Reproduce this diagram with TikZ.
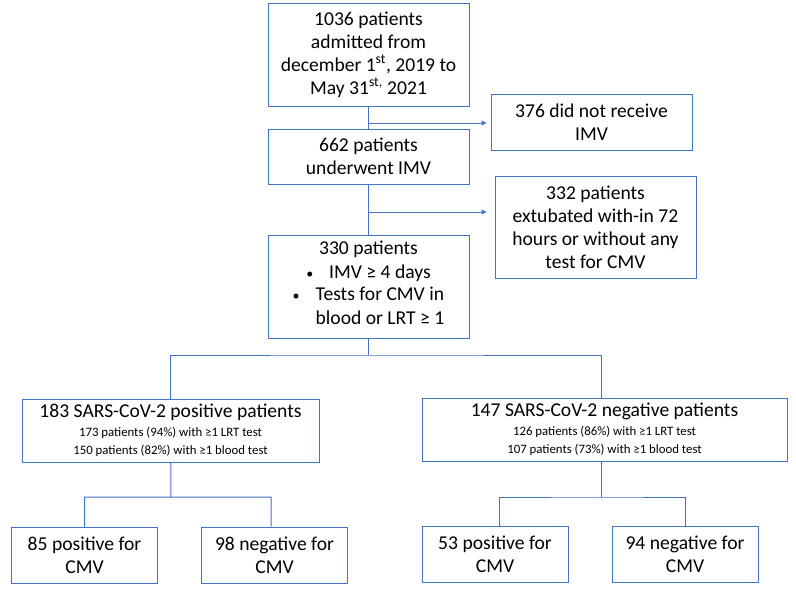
\documentclass[tikz,border=0pt]{standalone}
\usepackage{fontspec}
\setmainfont{Carlito}
\usetikzlibrary{arrows.meta,positioning}
\definecolor{office}{HTML}{4472C4}
\newcommand{\smalltxt}{\fontsize{12.8}{17}\selectfont}
\newcommand{\dotmark}{{\fontsize{14}{14}\selectfont\textbullet}}

\begin{document}
\begin{tikzpicture}[x=1pt,y=-1pt,>={Triangle[length=5pt,width=5pt]},
 box/.style={draw=office,line width=1pt,align=center,inner sep=0pt,
 font=\fontsize{19.6}{23}\selectfont},
 mainbox/.style={box,minimum width=201pt,minimum height=103pt},
 sidebox/.style={box,minimum width=201pt},
 leaf/.style={box,minimum width=146pt,minimum height=56pt},
 every edge/.style={draw=office,line width=1pt}]
\useasboundingbox (0,0) rectangle (796,590);
\node[mainbox] (adm) at (368.5,54.5)
 {1036 patients\\admitted from\\december 1\textsuperscript{st}, 2019 to\\May 31\textsuperscript{st,} 2021};
\node[sidebox,minimum height=56pt] (nomv) at (591.5,122) {376 did not receive\\IMV};
\node[mainbox,minimum height=55pt] (imv) at (368.5,156.5) {662 patients\\underwent IMV};
\node[sidebox,minimum height=102pt] (excl) at (595.5,227)
 {332 patients\\extubated with-in 72\\hours or without any\\test for CMV};
\node[mainbox] (sel) at (368.5,286.5)
 {330 patients\\[1pt]
 \dotmark\hspace{16pt}IMV ≥ 4 days\\[1pt]
 \renewcommand{\arraystretch}{1.04}%
 \begin{tabular}{@{}l@{\hspace{16pt}}l@{}}\dotmark & Tests for CMV in\\ & blood or LRT ≥ 1\end{tabular}};
\node[box,minimum width=297pt,minimum height=63pt] (pos) at (170.5,430.5)
 {183 SARS-CoV-2 positive patients\\[-4pt]
 {\smalltxt 173 patients (94\%) with ≥1 LRT test}\\[-5pt]
 {\smalltxt 150 patients (82\%) with ≥1 blood test}};
\node[box,minimum width=365pt,minimum height=63pt] (neg) at (604.5,429.5)
 {147 SARS-CoV-2 negative patients\\[-4pt]
 {\smalltxt 126 patients (86\%) with ≥1 LRT test}\\[-5pt]
 {\smalltxt 107 patients (73\%) with ≥1 blood test}};
\node[leaf] (pp) at (84.5,555.5) {85 positive for\\CMV};
\node[leaf] (pn) at (274.5,555) {98 negative for\\CMV};
\node[leaf] (np) at (495,554) {53 positive for\\CMV};
\node[leaf] (nn) at (685,554) {94 negative for\\CMV};
% main stem
\coordinate (s1) at (368.5,123);
\coordinate (s2) at (368.5,212);
\path (adm) edge (imv)
      (imv) edge (sel)
      (s1) edge[->,shorten >=4pt] (s1 -| nomv.west)
      (s2) edge[->,shorten >=8pt] (s2 -| excl.west);
% split by SARS-CoV-2 status
\coordinate (fork) at (368.5,355);
\draw[draw=office,line width=1pt] (sel) -- (fork)
 (pos) |- (fork) -| ([xshift=-3.5pt]neg.north);
\coordinate (lf) at (171,497);
\coordinate (rf) at (601,497);
\draw[draw=office,line width=1pt] (pos) -- (lf)
 (pp) |- (lf) -| ([xshift=-3.5pt]pn.north);
\draw[draw=office,line width=1pt] ([xshift=-3.5pt]neg.south) -- (rf)
 ([xshift=4pt]np.north) |- (rf) -| (nn);
\end{tikzpicture}
\end{document}
